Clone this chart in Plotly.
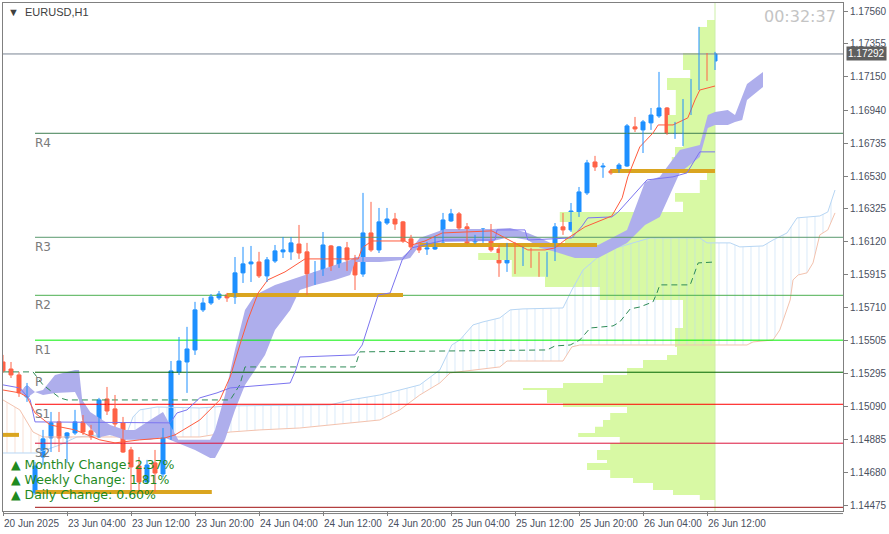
import plotly.graph_objects as go

# ---------------- data ----------------
time_labels = ["20 Jun 2025", "23 Jun 04:00", "23 Jun 12:00", "23 Jun 20:00", "24 Jun 04:00",
               "24 Jun 12:00", "24 Jun 20:00", "25 Jun 04:00", "25 Jun 12:00", "25 Jun 20:00",
               "26 Jun 04:00", "26 Jun 12:00"]
time_label_bar = [0, 8, 16, 24, 32, 40, 48, 56, 64, 72, 80, 88]

price_ticks = [1.17560, 1.17355, 1.17150, 1.16940, 1.16735, 1.16530, 1.16325, 1.16120,
               1.15915, 1.15710, 1.15505, 1.15295, 1.15090, 1.14885, 1.14680, 1.14475]

open_ = [1.15370, 1.15326, 1.15289, 1.15152, 1.14553, 1.14777, 1.14896, 1.14996, 1.14896, 1.14927,
         1.14996, 1.14940, 1.14902, 1.15139, 1.15077, 1.14990, 1.14821, 1.14721, 1.14621, 1.14740,
         1.14671, 1.14896, 1.15308, 1.15370, 1.15445, 1.15695, 1.15738, 1.15770, 1.15788, 1.15776,
         1.15926, 1.15982, 1.15994, 1.15907, 1.16000, 1.16057, 1.16057, 1.16106, 1.16057, 1.15919,
         1.15919, 1.16094, 1.15963, 1.16082, 1.16013, 1.15919, 1.16175, 1.16069, 1.16237, 1.16262,
         1.16244, 1.16138, 1.16100, 1.16075, 1.16075, 1.16119, 1.16250, 1.16294, 1.16213, 1.16119,
         1.16138, 1.16194, 1.16075, 1.15988, 1.16100, 1.16013, 1.16038, 1.16000, 1.15926, 1.16013,
         1.16213, 1.16194, 1.16306, 1.16425, 1.16618, 1.16587, 1.16562, 1.16556, 1.16593, 1.16837,
         1.16818, 1.16862, 1.16905, 1.16955, 1.16799, 1.16849, 1.16993, 1.17111, 1.17280, 1.17248]
high = [1.15414, 1.15370, 1.15308, 1.15239, 1.14746, 1.14946, 1.15058, 1.15058, 1.14933, 1.15071,
        1.15039, 1.14977, 1.15146, 1.15214, 1.15164, 1.15027, 1.14840, 1.14777, 1.14759, 1.14821,
        1.14958, 1.15376, 1.15526, 1.15589, 1.15745, 1.15770, 1.15794, 1.15813, 1.15801, 1.16025,
        1.16088, 1.16094, 1.16057, 1.16025, 1.16100, 1.16150, 1.16150, 1.16225, 1.16113, 1.16000,
        1.16181, 1.16100, 1.16094, 1.16119, 1.16038, 1.16425, 1.16369, 1.16331, 1.16331, 1.16300,
        1.16250, 1.16163, 1.16113, 1.16119, 1.16157, 1.16300, 1.16325, 1.16306, 1.16237, 1.16163,
        1.16206, 1.16231, 1.16100, 1.16113, 1.16119, 1.16088, 1.16082, 1.16057, 1.16057, 1.16237,
        1.16300, 1.16362, 1.16462, 1.16631, 1.16656, 1.16612, 1.16574, 1.16612, 1.16855, 1.16899,
        1.16880, 1.16955, 1.17180, 1.16961, 1.16868, 1.17011, 1.17136, 1.17461, 1.17298, 1.17305]
low = [1.15302, 1.15270, 1.15152, 1.15121, 1.14540, 1.14727, 1.14808, 1.14808, 1.14740, 1.14915,
       1.14915, 1.14884, 1.14896, 1.15039, 1.14965, 1.14802, 1.14553, 1.14553, 1.14615, 1.14559,
       1.14652, 1.14884, 1.15289, 1.15177, 1.15414, 1.15682, 1.15726, 1.15757, 1.15745, 1.15732,
       1.15863, 1.15869, 1.15894, 1.15869, 1.15988, 1.16019, 1.16007, 1.16013, 1.15788, 1.15851,
       1.15907, 1.15938, 1.15957, 1.15938, 1.15819, 1.15901, 1.16057, 1.16050, 1.16225, 1.16194,
       1.16113, 1.16069, 1.16050, 1.16038, 1.16069, 1.16113, 1.16244, 1.16194, 1.16106, 1.16106,
       1.16113, 1.16057, 1.15901, 1.15932, 1.15919, 1.15969, 1.15957, 1.15901, 1.15901, 1.16000,
       1.16163, 1.16181, 1.16275, 1.16412, 1.16562, 1.16519, 1.16538, 1.16550, 1.16587, 1.16805,
       1.16674, 1.16818, 1.16893, 1.16787, 1.16762, 1.16718, 1.16911, 1.17067, 1.17124, 1.17192]
close = [1.15314, 1.15289, 1.15177, 1.15214, 1.14721, 1.14890, 1.14990, 1.14896, 1.14927, 1.14996,
         1.14933, 1.14902, 1.15133, 1.15064, 1.14983, 1.14808, 1.14715, 1.14621, 1.14727, 1.14677,
         1.14902, 1.15314, 1.15376, 1.15451, 1.15695, 1.15738, 1.15776, 1.15794, 1.15770, 1.15926,
         1.15982, 1.15994, 1.15907, 1.16007, 1.16063, 1.16069, 1.16113, 1.16050, 1.15919, 1.15926,
         1.16100, 1.15963, 1.16088, 1.16007, 1.15913, 1.16175, 1.16069, 1.16244, 1.16262, 1.16231,
         1.16125, 1.16088, 1.16069, 1.16082, 1.16125, 1.16256, 1.16294, 1.16206, 1.16113, 1.16150,
         1.16200, 1.16069, 1.15988, 1.16100, 1.16007, 1.16038, 1.15994, 1.15926, 1.16013, 1.16213,
         1.16194, 1.16312, 1.16431, 1.16612, 1.16587, 1.16593, 1.16550, 1.16599, 1.16843, 1.16824,
         1.16868, 1.16911, 1.16955, 1.16799, 1.16862, 1.16993, 1.17105, 1.17280, 1.17255, 1.17292]

# Ichimoku-like lines (bar index, price)
tenkan_bar = [0, 2.1, 3, 4, 5.9, 9, 12.1, 14, 17.1, 20.25, 21.5, 24.6, 27.1, 28.4, 29.6, 30.6, 31.9, 33.1,
              35.25, 36.5, 37.75, 44.4, 44.9, 46.1, 50.25, 51.1, 52.75, 54.9, 61.1, 65.6, 67.75, 69, 70.25,
              72.75, 76.1, 77.4, 78.1, 79.6, 81.25, 81.9, 83.75, 85.6, 86.5, 87.1, 89]
tenkan_val = [1.15195, 1.15177, 1.15152, 1.15052, 1.14977, 1.14946, 1.14884, 1.14865, 1.14884, 1.14896,
              1.14915, 1.15008, 1.15133, 1.15277, 1.15476, 1.15632, 1.15801, 1.15882, 1.15932, 1.15975,
              1.16013, 1.16013, 1.16082, 1.16125, 1.16125, 1.16100, 1.16125, 1.16175, 1.16188, 1.16069,
              1.16069, 1.16082, 1.16131, 1.16213, 1.16281, 1.16394, 1.16525, 1.16712, 1.16799, 1.16849,
              1.16849, 1.16893, 1.17005, 1.17067, 1.17092]
kijun_bar = [0, 2.1, 3.4, 4, 20.9, 21.75, 23, 24.6, 26.75, 28.4, 35.9, 36.6, 37.1, 44, 44.9, 45.9, 46.9,
             48.4, 49, 49.9, 51.1, 55.25, 61.5, 61.75, 65.25, 65.6, 71.1, 72.4, 73.1, 76.1, 76.9, 78, 80.5,
             83.75, 85.5, 86.25, 87.1, 89]
kijun_val = [1.15227, 1.15208, 1.15133, 1.14996, 1.14990, 1.15052, 1.15071, 1.15146, 1.15177, 1.15208,
             1.15239, 1.15320, 1.15401, 1.15414, 1.15476, 1.15632, 1.15788, 1.15801, 1.15882, 1.16007,
             1.16082, 1.16131, 1.16131, 1.16194, 1.16194, 1.16131, 1.16144, 1.16219, 1.16269, 1.16275,
             1.16306, 1.16369, 1.16506, 1.16525, 1.16550, 1.16612, 1.16681, 1.16681]

cloud_bar = [2.1, 3, 4, 5, 6.5, 8, 9, 9.5, 9.9, 10.9, 12.1, 13.4, 15.25, 16.5, 18.4, 20, 21.9, 24, 25.9,
             26.5, 27.75, 29, 30.25, 31.5, 32.75, 34, 35.9, 37.1, 39, 41.5, 43.4, 44, 47.1, 49.9, 50.9,
             52.1, 55.25, 61.25, 63.4, 65.6, 67.1, 69, 71.5, 74.4, 78, 80.25, 82.1, 84.6, 87.1, 88.1, 89,
             90.6, 91.5, 92.4, 93, 95]
cloud_top = [1.15183, 1.15227, 1.15183, 1.15195, 1.15289, 1.15308, 1.15320, 1.15320, 1.15133, 1.15058,
             1.15021, 1.14977, 1.14946, 1.14946, 1.15008, 1.15058, 1.14884, 1.14884, 1.14884, 1.14946,
             1.15164, 1.15445, 1.15695, 1.15788, 1.15819, 1.15851, 1.15882, 1.15901, 1.15932, 1.15975,
             1.16007, 1.16025, 1.16025, 1.16025, 1.16069, 1.16144, 1.16200, 1.16200, 1.16206, 1.16175,
             1.16144, 1.16100, 1.16088, 1.16100, 1.16194, 1.16493, 1.16525, 1.16693, 1.16724, 1.16911,
             1.16930, 1.16943, 1.16911, 1.17024, 1.17105, 1.17180]
cloud_bot = [1.15183, 1.15146, 1.15183, 1.15164, 1.15177, 1.15183, 1.15183, 1.15133, 1.15008, 1.14958,
             1.14902, 1.14915, 1.14884, 1.14884, 1.14884, 1.14902, 1.14865, 1.14821, 1.14771, 1.14771,
             1.14884, 1.15071, 1.15227, 1.15320, 1.15414, 1.15570, 1.15695, 1.15819, 1.15851, 1.15882,
             1.15913, 1.15994, 1.15994, 1.16007, 1.16019, 1.16100, 1.16119, 1.16125, 1.16150, 1.16131,
             1.16082, 1.16057, 1.16019, 1.16019, 1.16113, 1.16225, 1.16275, 1.16550, 1.16649, 1.16830,
             1.16849, 1.16849, 1.16868, 1.16880, 1.17005, 1.17086]

span_a_bar = [0, 4.25, 7.1, 9.25, 12.1, 15.5, 16.25, 17.1, 19.25, 24.6, 28.4, 40.9, 43.4, 47.1, 49.6, 52.1,
              54.6, 56.1, 57.1, 58.75, 60, 62.1, 63.4, 65, 70, 71.1, 72.5, 74.25, 75.5, 77.1, 78.75, 80.9,
              87.1, 88, 90.9, 92.1, 95, 96.25, 98, 99.25, 102.1, 103.1, 104]
span_a_val = [1.14802, 1.14802, 1.14852, 1.14902, 1.14915, 1.14927, 1.15027, 1.15071, 1.15089, 1.15083,
              1.15096, 1.15102, 1.15133, 1.15164, 1.15195, 1.15227, 1.15320, 1.15476, 1.15507, 1.15601,
              1.15620, 1.15645, 1.15695, 1.15701, 1.15707, 1.15819, 1.15944, 1.16019, 1.16082, 1.16088,
              1.16113, 1.16144, 1.16144, 1.16113, 1.16113, 1.16088, 1.16094, 1.16131, 1.16175, 1.16269,
              1.16281, 1.16306, 1.16443]
span_b_bar = [0, 2.1, 3.75, 5, 12.1, 24.6, 28.4, 32.1, 37.1, 40.9, 47.1, 49.6, 52.1, 54.6, 55.9, 62.1, 63,
              70, 71.1, 72.1, 93, 93.75, 96.25, 97.1, 98.4, 98.75, 99.4, 100.5, 101.25, 102.1, 103.1, 104]
span_b_val = [1.15133, 1.15071, 1.14933, 1.14902, 1.14902, 1.14902, 1.14933, 1.14946, 1.14958, 1.14977,
              1.15008, 1.15071, 1.15164, 1.15239, 1.15302, 1.15339, 1.15376, 1.15376, 1.15464, 1.15476,
              1.15476, 1.15495, 1.15507, 1.15570, 1.15757, 1.15882, 1.15913, 1.15926, 1.15988, 1.16163,
              1.16194, 1.16300]
span_twist_bar = 12.1

dash_bar = [0, 3.75, 5, 7.1, 8, 28.4, 29.6, 30.25, 44, 44.6, 68, 69, 70.9, 72.1, 73.4, 76.25, 77.1, 78.4,
            79.6, 81.25, 81.75, 82.1, 85.9, 86.25, 86.9, 89]
dash_val = [1.15308, 1.15308, 1.15227, 1.15146, 1.15133, 1.15133, 1.15227, 1.15339, 1.15339, 1.15433,
            1.15445, 1.15470, 1.15476, 1.15507, 1.15582, 1.15595, 1.15620, 1.15701, 1.15713, 1.15745,
            1.15801, 1.15851, 1.15851, 1.15901, 1.15988, 1.15994]

# Pivot levels
pivot_names = ["R4", "R3", "R2", "R1", "P", "S1", "S2", "S3"]
pivot_levels = [1.16797, 1.16148, 1.15786, 1.15506, 1.15306, 1.15106, 1.14863, 1.14463]
pivot_colors = ["#3f7f52", "#5a9a6e", "#4cb050", "#00f000", "#006400", "#ff0000", "#dc143c", "#a01010"]
pivot_start_bar = 4

# Daily high/low segments
seg_price = [1.16562, 1.16100, 1.15788, 1.14915, 1.14559]
seg_start = [75.9, 52.1, 28.0, 0, 4.0]
seg_end = [89.0, 74.25, 50.0, 2.0, 26.1]

# Volume profile
vp_levels = [1.17504, 1.17461, 1.17298, 1.17192, 1.17142, 1.17067, 1.16911, 1.16799, 1.16712, 1.16649,
             1.16550, 1.16506, 1.16425, 1.16369, 1.16306, 1.16244, 1.16150, 1.16100, 1.16050, 1.16007,
             1.15901, 1.15838, 1.15757, 1.15582, 1.15464, 1.15414, 1.15383, 1.15333, 1.15289, 1.15239,
             1.15208, 1.15195, 1.15114, 1.15089, 1.15052, 1.15008, 1.14965, 1.14927, 1.14902, 1.14865,
             1.14821, 1.14759, 1.14740, 1.14696, 1.14646, 1.14615, 1.14571, 1.14540, 1.14509]
vp_volume = [1.0, 2.0, 4.0, 3.1, 6.0, 4.9, 5.9, 4.0, 5.0, 5.4,
             1.0, 1.9, 5.0, 4.0, 19.4, 17.9, 18.75, 26.9, 29.6, 25.4,
             21.25, 14.4, 4.0, 5.0, 4.75, 6.0, 9.0, 11.0, 14.0, 19.0,
             24.0, 21.0, 19.0, 11.0, 13.1, 14.0, 15.0, 17.1, 11.9, 13.1,
             14.75, 13.5, 16.0, 13.1, 10.25, 7.75, 5.25, 1.9]
vp_anchor_bar = 89

last_price = 1.17292
timer_text = "00:32:37"
changes = [("Monthly Change", "2.37%"), ("Weekly Change", "1.81%"), ("Daily Change", "0.60%")]

# ---------------- figure ----------------
X_RANGE = [0, 105]
Y_RANGE = [1.14440, 1.17610]
BULL = "#1e90ff"
BEAR = "#ff6347"
fig = go.Figure()

# volume profile polygon
px, py = [vp_anchor_bar], [vp_levels[0]]
for i, v in enumerate(vp_volume):
    px += [vp_anchor_bar - v, vp_anchor_bar - v]
    py += [vp_levels[i], vp_levels[i + 1]]
px.append(vp_anchor_bar)
py.append(vp_levels[-1])
fig.add_trace(go.Scatter(x=px, y=py, fill="toself", fillcolor="#d8f9a4", mode="lines",
                         line=dict(width=0), hoverinfo="skip"))
fig.add_trace(go.Scatter(x=[vp_anchor_bar, vp_anchor_bar], y=Y_RANGE, mode="lines",
                         line=dict(color="#cdefa8", width=1), hoverinfo="skip"))

# hatched cloud
def split(bars, vals, cut, left):
    xs, ys = [], []
    for b, v in zip(bars, vals):
        if (left and b <= cut) or ((not left) and b >= cut):
            xs.append(b)
            ys.append(v)
    return xs, ys

for left, col in [(True, "#f3c2ae"), (False, "#b7d6f4")]:
    ax, ay = split(span_a_bar, span_a_val, span_twist_bar, left)
    bx, by = split(span_b_bar, span_b_val, span_twist_bar, left)
    fig.add_trace(go.Scatter(x=ax, y=ay, mode="lines", line=dict(color="#b7d6f4", width=1),
                             hoverinfo="skip"))
    fig.add_trace(go.Scatter(x=bx, y=by, mode="lines", line=dict(color="#f3c2ae", width=1),
                             fill="tonexty", fillcolor="rgba(0,0,0,0)",
                             fillpattern=dict(shape="|", size=8, solidity=0.13, fgcolor=col,
                                              bgcolor="rgba(0,0,0,0)", fillmode="overlay"),
                             hoverinfo="skip"))

# lavender cloud
fig.add_trace(go.Scatter(x=cloud_bar, y=cloud_bot, mode="lines", line=dict(width=0, color="#aeaeec"),
                         hoverinfo="skip"))
fig.add_trace(go.Scatter(x=cloud_bar, y=cloud_top, mode="lines", line=dict(width=0, color="#aeaeec"),
                         fill="tonexty", fillcolor="#aeaeec", hoverinfo="skip"))

# current price line
fig.add_trace(go.Scatter(x=X_RANGE, y=[last_price, last_price], mode="lines",
                         line=dict(color="#7a8594", width=1), hoverinfo="skip"))

# pivot lines
for lvl, col in zip(pivot_levels, pivot_colors):
    fig.add_trace(go.Scatter(x=[pivot_start_bar, X_RANGE[1]], y=[lvl, lvl], mode="lines",
                             line=dict(color=col, width=1), hoverinfo="skip"))

# daily high/low segments
for p, s, e in zip(seg_price, seg_start, seg_end):
    fig.add_trace(go.Scatter(x=[s, e], y=[p, p], mode="lines",
                             line=dict(color="#daa520", width=4), hoverinfo="skip"))

# indicator lines
fig.add_trace(go.Scatter(x=dash_bar, y=dash_val, mode="lines",
                         line=dict(color="#2e8b57", width=1, dash="6px,4px"), hoverinfo="skip"))
fig.add_trace(go.Scatter(x=kijun_bar, y=kijun_val, mode="lines",
                         line=dict(color="#7b74f0", width=1), hoverinfo="skip"))
fig.add_trace(go.Scatter(x=tenkan_bar, y=tenkan_val, mode="lines",
                         line=dict(color="#ff5a3c", width=1), hoverinfo="skip"))

# candles
bars = list(range(len(open_)))
for bull, col in [(True, BULL), (False, BEAR)]:
    idx = [i for i in bars if (close[i] >= open_[i]) == bull]
    wx, wy = [], []
    for i in idx:
        wx += [i, i, None]
        wy += [low[i], high[i], None]
    fig.add_trace(go.Scatter(x=wx, y=wy, mode="lines", line=dict(color=col, width=1),
                             hoverinfo="skip"))
    fig.add_trace(go.Bar(x=idx, y=[abs(close[i] - open_[i]) for i in idx],
                         base=[min(open_[i], close[i]) for i in idx], width=0.5,
                         marker=dict(color=col, line=dict(color=col, width=1)), hoverinfo="skip"))

ann = []
# x labels (left aligned at tick)
for b, t in zip(time_label_bar, time_labels):
    ann.append(dict(x=b, y=0, xref="x", yref="paper", text=t, showarrow=False, xanchor="left",
                    yanchor="top", xshift=-1, yshift=-5,
                    font=dict(family="Liberation Sans", size=10, color="#4a5060")))
# pivot labels
for name, lvl in zip(pivot_names[:-1], pivot_levels[:-1]):
    ann.append(dict(x=pivot_start_bar, y=lvl, text=name, showarrow=False, xanchor="left",
                    yanchor="top", yshift=-1, xshift=-2,
                    font=dict(family="DejaVu Sans", size=12, color="#7a7a7a")))
# last price label
ann.append(dict(x=1, xref="paper", y=last_price, text=f"{last_price:.5f}", showarrow=False,
                xanchor="left", xshift=3, bgcolor="#5f5f5f", borderpad=1,
                font=dict(family="Liberation Sans", size=10, color="#ffffff")))
# timer
ann.append(dict(x=1, xref="paper", y=1, yref="paper", text=timer_text, showarrow=False,
                xanchor="right", yanchor="top", xshift=-5, yshift=-2,
                font=dict(family="DejaVu Sans", size=16, color="#c4c4c4")))
# title
ann.append(dict(x=0, xref="paper", y=1, yref="paper", text="▼  EURUSD,H1", showarrow=False,
                xanchor="left", yanchor="top", xshift=3, yshift=-1,
                font=dict(family="Liberation Sans", size=11, color="#404040")))
# change texts
for j, (lab, val) in enumerate(changes):
    ann.append(dict(x=0, xref="paper", y=0, yref="paper", text=f"▲ {lab}: {val}", showarrow=False,
                    xanchor="left", yanchor="bottom", xshift=6, yshift=37 - 15 * j,
                    font=dict(family="DejaVu Sans", size=12.5, color="#1f8a1f")))

fig.update_layout(
    width=889, height=534,
    margin=dict(l=3, r=46, t=3, b=23, autoexpand=False),
    paper_bgcolor="white", plot_bgcolor="white",
    showlegend=False, barmode="overlay",
    annotations=ann,
    xaxis=dict(range=X_RANGE, showgrid=False, zeroline=False, tickvals=time_label_bar,
               ticks="outside", ticklen=4, tickcolor="#808080", showticklabels=False,
               showline=True, mirror=True, linecolor="#808080", linewidth=1, fixedrange=True,
               automargin=False),
    yaxis=dict(range=Y_RANGE, side="right", showgrid=False, zeroline=False, tickvals=price_ticks,
               ticktext=[f"{v:.5f}" for v in price_ticks], ticks="outside", ticklen=4,
               tickcolor="#808080", tickfont=dict(family="Liberation Sans", size=10, color="#4a5060"),
               showline=True, mirror=True, linecolor="#808080", linewidth=1, fixedrange=True,
               automargin=False),
    shapes=[dict(type="line", xref="paper", yref="paper", x0=0, x1=1, y0=-0.005, y1=-0.005,
                 line=dict(color="#808080", width=1))],
)

fig.write_html("out.html", config={"displayModeBar": False},
               post_script="document.body.style.margin='0';document.body.style.overflow='hidden';")
